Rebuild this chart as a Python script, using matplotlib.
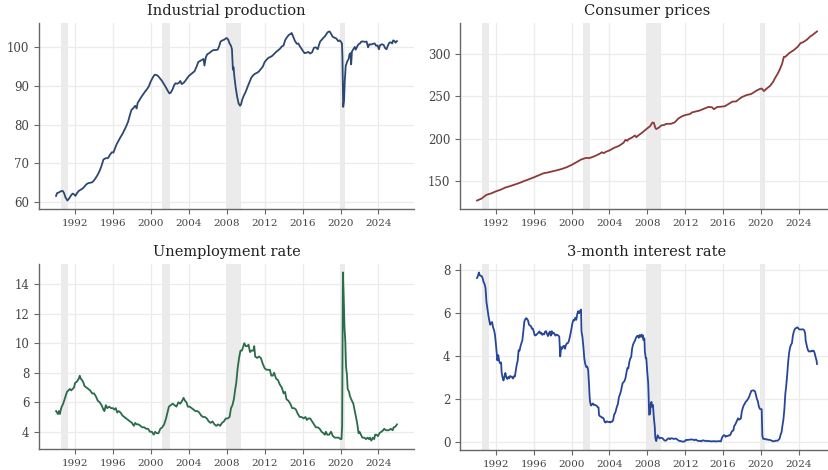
import numpy as np
import matplotlib
matplotlib.use("Agg")
import matplotlib.pyplot as plt

# Recession periods (start, end) in decimal years
recessions = [(1990.5, 1991.25), (2001.2, 2002.0), (2007.92, 2009.5), (2019.95, 2020.5)]

# Industrial production index
ip_t = [1990.0, 1990.1, 1990.3, 1990.5, 1990.7, 1990.85, 1991.0, 1991.2, 1991.4, 1991.6,
        1991.75, 1991.9, 1992.05, 1992.2, 1992.4, 1992.6, 1992.8, 1993.0, 1993.2, 1993.4,
        1993.6, 1993.8, 1994.0, 1994.2, 1994.4, 1994.6, 1994.8, 1995.0, 1995.2, 1995.5,
        1995.7, 1995.9, 1996.05, 1996.2, 1996.4, 1996.6, 1996.8, 1997.0, 1997.2, 1997.4,
        1997.6, 1997.8, 1997.95, 1998.15, 1998.35, 1998.5, 1998.6, 1998.8, 1999.0, 1999.2,
        1999.4, 1999.6, 1999.8, 1999.95, 2000.1, 2000.25, 2000.4, 2000.55, 2000.75, 2000.95,
        2001.15, 2001.35, 2001.55, 2001.75, 2001.95, 2002.1, 2002.3, 2002.45, 2002.6, 2002.8,
        2003.0, 2003.1, 2003.25, 2003.45, 2003.65, 2003.85, 2004.0, 2004.2, 2004.4, 2004.6,
        2004.8, 2005.0, 2005.2, 2005.4, 2005.55, 2005.65, 2005.8, 2005.95, 2006.15, 2006.4,
        2006.6, 2006.85, 2007.05, 2007.2, 2007.35, 2007.55, 2007.75, 2007.9, 2008.0, 2008.15,
        2008.3, 2008.45, 2008.55, 2008.65, 2008.72, 2008.8, 2008.95, 2009.1, 2009.25, 2009.4,
        2009.5, 2009.65, 2009.8, 2010.0, 2010.2, 2010.4, 2010.6, 2010.8, 2011.0, 2011.2,
        2011.4, 2011.6, 2011.8, 2012.0, 2012.2, 2012.4, 2012.6, 2012.8, 2013.0, 2013.2,
        2013.4, 2013.6, 2013.8, 2014.0, 2014.15, 2014.35, 2014.55, 2014.75, 2014.85, 2015.0,
        2015.2, 2015.4, 2015.55, 2015.7, 2015.9, 2016.05, 2016.2, 2016.4, 2016.6, 2016.8,
        2017.0, 2017.2, 2017.4, 2017.6, 2017.7, 2017.85, 2018.0, 2018.2, 2018.4, 2018.55,
        2018.7, 2018.85, 2019.0, 2019.15, 2019.35, 2019.55, 2019.75, 2019.9, 2020.05, 2020.15,
        2020.2, 2020.28, 2020.37, 2020.45, 2020.55, 2020.7, 2020.85, 2020.95, 2021.05, 2021.12,
        2021.2, 2021.35, 2021.5, 2021.6, 2021.75, 2021.9, 2022.05, 2022.2, 2022.4, 2022.6,
        2022.75, 2022.9, 2023.05, 2023.2, 2023.4, 2023.6, 2023.75, 2023.9, 2024.05, 2024.15,
        2024.35, 2024.55, 2024.7, 2024.85, 2025.0, 2025.15, 2025.3, 2025.45, 2025.55, 2025.7,
        2025.8, 2025.95]
ip_v = [61.6, 62.3, 62.5, 62.8, 62.9, 62.3, 61.2, 60.4, 61.0, 61.8,
        62.2, 62.0, 61.6, 62.3, 62.9, 63.2, 63.5, 64.0, 64.6, 64.9,
        65.0, 65.1, 65.6, 66.3, 67.1, 68.1, 69.4, 71.0, 71.3, 71.4,
        72.3, 72.9, 72.8, 73.8, 75.0, 75.9, 76.8, 77.6, 78.6, 79.6,
        80.8, 82.6, 83.8, 84.3, 84.9, 84.2, 85.6, 86.4, 87.2, 87.9,
        88.6, 89.2, 90.0, 91.0, 91.7, 92.4, 92.9, 92.9, 92.6, 92.0,
        91.4, 90.6, 89.8, 88.9, 88.1, 88.3, 89.2, 90.2, 90.7, 90.6,
        90.9, 91.3, 90.5, 90.8, 91.4, 92.1, 92.6, 93.0, 93.4, 93.8,
        94.9, 96.2, 96.5, 96.8, 97.0, 95.3, 97.5, 98.2, 98.5, 99.0,
        99.3, 99.3, 99.4, 100.3, 101.5, 101.8, 102.0, 102.3, 102.4, 102.0,
        101.0, 100.4, 99.5, 94.2, 94.8, 92.5, 89.5, 87.2, 85.5, 84.9,
        85.2, 86.6, 87.5, 88.5, 89.8, 91.0, 92.2, 92.8, 93.2, 93.4,
        93.8, 94.4, 95.0, 96.2, 96.8, 97.3, 97.5, 97.8, 98.3, 98.8,
        99.2, 99.6, 100.2, 100.5, 101.8, 102.6, 103.2, 103.5, 103.7, 102.8,
        101.6, 100.9, 101.0, 100.3, 99.6, 99.0, 98.5, 98.6, 98.8, 98.4,
        98.7, 99.9, 100.0, 99.5, 100.4, 101.5, 101.9, 102.4, 103.0, 103.6,
        104.0, 104.1, 103.5, 102.8, 102.5, 102.3, 101.6, 101.8, 101.4, 101.0,
        97.5, 84.6, 86.2, 91.5, 95.2, 96.3, 97.0, 98.2, 98.5, 95.6,
        98.9, 99.5, 100.1, 99.4, 100.2, 100.8, 101.0, 101.5, 101.5, 101.4,
        101.5, 100.0, 100.8, 100.7, 100.9, 101.0, 100.4, 100.5, 99.5, 100.5,
        100.8, 100.6, 99.8, 99.5, 100.5, 101.2, 101.3, 101.0, 101.8, 101.6,
        101.2, 101.6]

# Consumer price index
cpi_t = [1990.0, 1990.5, 1990.8, 1991.0, 1991.5, 1992.0, 1992.5, 1993.0, 1993.5, 1994.0,
         1994.5, 1995.0, 1995.5, 1996.0, 1996.5, 1997.0, 1997.5, 1998.0, 1998.5, 1999.0,
         1999.5, 2000.0, 2000.5, 2001.0, 2001.5, 2001.9, 2002.2, 2002.5, 2003.0, 2003.2,
         2003.4, 2003.6, 2004.0, 2004.5, 2005.0, 2005.5, 2005.7, 2005.9, 2006.0, 2006.4,
         2006.7, 2006.85, 2007.0, 2007.5, 2008.0, 2008.3, 2008.55, 2008.7, 2008.85, 2008.95,
         2009.2, 2009.5, 2009.8, 2010.0, 2010.5, 2010.9, 2011.3, 2011.7, 2012.0, 2012.5,
         2012.75, 2013.0, 2013.5, 2014.0, 2014.5, 2014.85, 2015.05, 2015.4, 2015.9, 2016.2,
         2016.5, 2017.0, 2017.4, 2017.8, 2018.0, 2018.5, 2019.0, 2019.5, 2019.9, 2020.1,
         2020.35, 2020.6, 2021.0, 2021.3, 2021.5, 2021.8, 2022.0, 2022.25, 2022.45, 2022.6,
         2023.0, 2023.5, 2023.9, 2024.2, 2024.5, 2024.9, 2025.2, 2025.5, 2025.95]
cpi_v = [127.5, 129.9, 132.6, 134.2, 135.9, 138.3, 140.2, 142.8, 144.4, 146.3,
         148.2, 150.5, 152.5, 154.7, 157.0, 159.4, 160.5, 161.8, 163.2, 164.7,
         166.7, 169.3, 172.4, 175.6, 177.5, 177.4, 178.6, 179.9, 182.6, 184.2,
         183.1, 184.6, 186.3, 189.4, 191.6, 195.4, 198.8, 197.6, 199.3, 201.5,
         203.9, 201.8, 203.4, 207.6, 212.2, 214.8, 219.1, 218.8, 213.0, 211.4,
         212.9, 215.7, 216.3, 217.5, 217.6, 219.2, 223.9, 226.5, 227.8, 229.0,
         231.0, 231.7, 233.0, 235.3, 237.5, 236.9, 234.7, 237.3, 237.8, 238.2,
         240.2, 243.6, 243.9, 247.3, 248.9, 251.3, 252.6, 256.2, 258.5, 259.0,
         256.0, 258.7, 262.2, 266.7, 271.0, 276.5, 281.1, 287.7, 296.3, 296.2,
         300.5, 304.1, 307.9, 312.2, 313.5, 316.5, 319.8, 322.1, 326.0]

# Unemployment rate (%)
ur_t = [1990.0, 1990.1, 1990.2, 1990.3, 1990.4, 1990.5, 1990.6, 1990.75, 1990.9, 1991.0,
        1991.15, 1991.3, 1991.45, 1991.6, 1991.75, 1991.9, 1992.0, 1992.2, 1992.4, 1992.5,
        1992.6, 1992.75, 1992.9, 1993.0, 1993.2, 1993.4, 1993.6, 1993.8, 1994.0, 1994.2,
        1994.4, 1994.6, 1994.8, 1995.0, 1995.1, 1995.25, 1995.4, 1995.6, 1995.8, 1996.0,
        1996.15, 1996.3, 1996.45, 1996.6, 1996.8, 1997.0, 1997.2, 1997.4, 1997.6, 1997.8,
        1998.0, 1998.2, 1998.35, 1998.5, 1998.7, 1998.9, 1999.1, 1999.3, 1999.5, 1999.7,
        1999.9, 2000.1, 2000.3, 2000.45, 2000.6, 2000.8, 2001.0, 2001.2, 2001.4, 2001.6,
        2001.75, 2001.9, 2002.1, 2002.3, 2002.5, 2002.7, 2002.9, 2003.1, 2003.3, 2003.45,
        2003.6, 2003.75, 2003.9, 2004.1, 2004.3, 2004.5, 2004.7, 2004.9, 2005.1, 2005.3,
        2005.5, 2005.7, 2005.9, 2006.1, 2006.3, 2006.5, 2006.7, 2006.9, 2007.1, 2007.3,
        2007.5, 2007.7, 2007.9, 2008.1, 2008.3, 2008.45, 2008.6, 2008.75, 2008.9, 2009.0,
        2009.15, 2009.3, 2009.45, 2009.6, 2009.75, 2009.85, 2010.0, 2010.15, 2010.3, 2010.45,
        2010.6, 2010.8, 2010.9, 2011.0, 2011.2, 2011.4, 2011.6, 2011.8, 2012.0, 2012.2,
        2012.4, 2012.55, 2012.7, 2012.85, 2013.0, 2013.2, 2013.4, 2013.6, 2013.8, 2014.0,
        2014.15, 2014.3, 2014.5, 2014.7, 2014.9, 2015.1, 2015.3, 2015.5, 2015.7, 2015.9,
        2016.1, 2016.3, 2016.45, 2016.6, 2016.8, 2017.0, 2017.2, 2017.4, 2017.6, 2017.8,
        2018.0, 2018.2, 2018.35, 2018.45, 2018.6, 2018.8, 2019.0, 2019.2, 2019.4, 2019.6,
        2019.8, 2020.0, 2020.1, 2020.17, 2020.25, 2020.33, 2020.42, 2020.5, 2020.58, 2020.67,
        2020.75, 2020.9, 2021.0, 2021.2, 2021.35, 2021.5, 2021.6, 2021.75, 2021.9, 2022.0,
        2022.15, 2022.3, 2022.5, 2022.7, 2022.85, 2023.0, 2023.1, 2023.25, 2023.4, 2023.55,
        2023.65, 2023.8, 2023.95, 2024.1, 2024.3, 2024.5, 2024.6, 2024.8, 2024.95, 2025.1,
        2025.3, 2025.5, 2025.6, 2025.7, 2025.85, 2025.95]
ur_v = [5.4, 5.3, 5.2, 5.4, 5.2, 5.5, 5.7, 5.9, 6.2, 6.4,
        6.7, 6.8, 6.9, 6.8, 6.9, 7.0, 7.3, 7.4, 7.6, 7.8,
        7.6, 7.5, 7.3, 7.1, 7.0, 6.9, 6.8, 6.6, 6.6, 6.4,
        6.1, 6.0, 5.8, 5.5, 5.4, 5.8, 5.6, 5.7, 5.6, 5.6,
        5.5, 5.6, 5.3, 5.4, 5.3, 5.1, 5.0, 4.9, 4.8, 4.7,
        4.6, 4.4, 4.6, 4.5, 4.5, 4.4, 4.3, 4.3, 4.2, 4.2,
        4.0, 4.0, 3.8, 4.0, 3.9, 3.9, 4.2, 4.3, 4.5, 4.9,
        5.3, 5.7, 5.8, 5.9, 5.8, 5.7, 6.0, 5.9, 6.1, 6.3,
        6.1, 6.0, 5.7, 5.7, 5.6, 5.5, 5.4, 5.4, 5.3, 5.1,
        5.0, 5.0, 4.9, 4.7, 4.6, 4.7, 4.5, 4.4, 4.5, 4.4,
        4.6, 4.7, 4.9, 4.9, 5.0, 5.6, 5.8, 6.2, 6.9, 7.3,
        8.3, 9.0, 9.5, 9.5, 9.8, 10.0, 9.8, 9.8, 9.9, 9.4,
        9.5, 9.5, 9.8, 9.1, 9.0, 9.1, 9.0, 8.6, 8.3, 8.2,
        8.2, 8.2, 7.8, 7.8, 8.0, 7.6, 7.5, 7.2, 7.0, 6.6,
        6.7, 6.2, 6.1, 5.9, 5.6, 5.6, 5.5, 5.2, 5.0, 5.0,
        4.9, 5.0, 4.8, 4.9, 4.9, 4.7, 4.5, 4.3, 4.3, 4.2,
        4.0, 3.9, 3.8, 4.0, 3.8, 3.8, 4.0, 3.7, 3.6, 3.6,
        3.6, 3.5, 3.5, 4.4, 14.8, 13.2, 11.0, 10.2, 8.4, 7.9,
        6.9, 6.7, 6.4, 6.1, 5.9, 5.4, 5.1, 4.6, 3.9, 4.0,
        3.8, 3.6, 3.6, 3.5, 3.6, 3.5, 3.6, 3.4, 3.6, 3.5,
        3.8, 3.8, 3.7, 3.9, 4.0, 4.1, 4.2, 4.1, 4.1, 4.1,
        4.2, 4.1, 4.3, 4.3, 4.4, 4.5]

# 3-month treasury bill rate (%)
tb_t = [1990.0, 1990.1, 1990.2, 1990.3, 1990.4, 1990.5, 1990.6, 1990.7, 1990.8, 1990.9,
        1991.0, 1991.1, 1991.2, 1991.3, 1991.4, 1991.5, 1991.6, 1991.7, 1991.8, 1991.9,
        1992.0, 1992.1, 1992.15, 1992.25, 1992.35, 1992.45, 1992.55, 1992.6, 1992.7, 1992.8,
        1992.9, 1993.0, 1993.1, 1993.2, 1993.3, 1993.4, 1993.5, 1993.6, 1993.7, 1993.8,
        1993.9, 1994.0, 1994.1, 1994.2, 1994.3, 1994.4, 1994.5, 1994.6, 1994.7, 1994.8,
        1994.9, 1995.0, 1995.1, 1995.2, 1995.3, 1995.4, 1995.5, 1995.6, 1995.7, 1995.8,
        1995.9, 1996.0, 1996.1, 1996.2, 1996.3, 1996.4, 1996.5, 1996.6, 1996.7, 1996.8,
        1996.9, 1997.0, 1997.1, 1997.2, 1997.3, 1997.4, 1997.5, 1997.6, 1997.7, 1997.8,
        1997.9, 1998.0, 1998.1, 1998.2, 1998.3, 1998.4, 1998.5, 1998.6, 1998.7, 1998.8,
        1998.9, 1999.0, 1999.1, 1999.2, 1999.3, 1999.4, 1999.5, 1999.6, 1999.7, 1999.8,
        1999.9, 2000.0, 2000.1, 2000.2, 2000.3, 2000.4, 2000.5, 2000.6, 2000.7, 2000.8,
        2000.9, 2001.0, 2001.05, 2001.15, 2001.25, 2001.35, 2001.45, 2001.55, 2001.65, 2001.75,
        2001.85, 2001.9, 2001.95, 2002.05, 2002.15, 2002.25, 2002.35, 2002.45, 2002.55, 2002.65,
        2002.75, 2002.85, 2002.9, 2003.0, 2003.1, 2003.2, 2003.3, 2003.4, 2003.5, 2003.6,
        2003.7, 2003.8, 2003.9, 2004.0, 2004.1, 2004.2, 2004.3, 2004.4, 2004.5, 2004.6,
        2004.7, 2004.8, 2004.9, 2005.0, 2005.1, 2005.2, 2005.3, 2005.4, 2005.5, 2005.6,
        2005.7, 2005.8, 2005.9, 2006.0, 2006.1, 2006.2, 2006.3, 2006.4, 2006.5, 2006.6,
        2006.7, 2006.8, 2006.9, 2007.0, 2007.1, 2007.2, 2007.3, 2007.4, 2007.5, 2007.55,
        2007.6, 2007.7, 2007.75, 2007.85, 2007.9, 2008.0, 2008.1, 2008.15, 2008.2, 2008.3,
        2008.35, 2008.45, 2008.5, 2008.6, 2008.7, 2008.8, 2008.85, 2008.95, 2009.0, 2009.1,
        2009.2, 2009.3, 2009.4, 2009.5, 2009.6, 2009.7, 2009.8, 2009.9, 2010.0, 2010.1,
        2010.2, 2010.3, 2010.4, 2010.5, 2010.6, 2010.7, 2010.8, 2010.9, 2011.0, 2011.1,
        2011.2, 2011.3, 2011.4, 2011.5, 2011.6, 2011.7, 2011.8, 2011.9, 2012.0, 2012.1,
        2012.2, 2012.3, 2012.4, 2012.5, 2012.6, 2012.7, 2012.8, 2012.9, 2013.0, 2013.1,
        2013.2, 2013.3, 2013.4, 2013.5, 2013.6, 2013.7, 2013.8, 2013.9, 2014.0, 2014.1,
        2014.2, 2014.3, 2014.4, 2014.5, 2014.6, 2014.7, 2014.8, 2014.9, 2015.0, 2015.2,
        2015.4, 2015.6, 2015.8, 2015.85, 2015.95, 2016.0, 2016.1, 2016.2, 2016.3, 2016.4,
        2016.5, 2016.6, 2016.7, 2016.8, 2016.9, 2017.0, 2017.1, 2017.2, 2017.3, 2017.4,
        2017.5, 2017.6, 2017.7, 2017.8, 2017.9, 2018.0, 2018.1, 2018.2, 2018.3, 2018.4,
        2018.5, 2018.6, 2018.7, 2018.8, 2018.9, 2019.0, 2019.1, 2019.2, 2019.3, 2019.4,
        2019.5, 2019.6, 2019.7, 2019.8, 2019.9, 2020.0, 2020.1, 2020.17, 2020.25, 2020.35,
        2020.5, 2020.6, 2020.7, 2020.8, 2020.9, 2021.0, 2021.2, 2021.4, 2021.6, 2021.8,
        2022.0, 2022.1, 2022.2, 2022.3, 2022.4, 2022.5, 2022.6, 2022.7, 2022.8, 2022.9,
        2023.0, 2023.1, 2023.2, 2023.3, 2023.4, 2023.5, 2023.6, 2023.7, 2023.8, 2023.9,
        2024.0, 2024.1, 2024.2, 2024.3, 2024.4, 2024.5, 2024.6, 2024.7, 2024.75, 2024.85,
        2024.9, 2025.0, 2025.1, 2025.2, 2025.3, 2025.4, 2025.5, 2025.6, 2025.7, 2025.8,
        2025.9, 2025.95]
tb_v = [7.64, 7.74, 7.90, 7.77, 7.74, 7.73, 7.62, 7.45, 7.36, 7.17,
        6.52, 6.20, 5.91, 5.65, 5.46, 5.57, 5.58, 5.33, 5.22, 4.99,
        4.56, 4.07, 3.80, 4.04, 3.75, 3.66, 3.70, 3.25, 3.00, 2.86,
        3.05, 3.21, 3.00, 2.93, 3.02, 2.96, 3.07, 3.04, 3.02, 2.95,
        3.06, 3.04, 3.33, 3.59, 3.78, 4.27, 4.25, 4.46, 4.61, 4.75,
        5.15, 5.60, 5.71, 5.77, 5.73, 5.65, 5.47, 5.42, 5.40, 5.28,
        5.28, 5.14, 4.97, 4.96, 5.00, 5.05, 5.09, 5.15, 5.05, 5.09,
        4.99, 5.03, 5.01, 5.14, 5.16, 5.05, 4.93, 5.05, 5.14, 4.95,
        5.16, 5.04, 5.09, 5.03, 4.95, 5.00, 4.98, 4.96, 4.90, 3.98,
        4.41, 4.34, 4.45, 4.48, 4.34, 4.51, 4.59, 4.60, 4.68, 4.86,
        5.07, 5.32, 5.55, 5.69, 5.66, 5.79, 5.69, 5.96, 6.09, 6.00,
        6.11, 6.17, 5.15, 4.88, 4.42, 3.87, 3.62, 3.49, 3.51, 3.36,
        2.64, 2.16, 1.87, 1.69, 1.73, 1.79, 1.72, 1.73, 1.70, 1.68,
        1.62, 1.60, 1.25, 1.19, 1.17, 1.13, 1.13, 1.07, 0.92, 0.90,
        0.95, 0.94, 0.92, 0.93, 0.90, 0.94, 0.94, 1.02, 1.27, 1.33,
        1.48, 1.65, 1.76, 2.07, 2.19, 2.33, 2.54, 2.74, 2.78, 2.84,
        2.97, 3.22, 3.44, 3.42, 3.71, 3.88, 3.95, 4.34, 4.54, 4.63,
        4.72, 4.84, 4.92, 4.95, 4.85, 4.98, 4.90, 5.00, 4.87, 4.96,
        4.74, 4.82, 4.20, 3.89, 3.90, 3.27, 2.75, 2.12, 1.26, 1.29,
        1.73, 1.86, 1.63, 1.72, 1.13, 0.67, 0.19, 0.03, 0.13, 0.30,
        0.22, 0.16, 0.18, 0.18, 0.17, 0.12, 0.07, 0.05, 0.06, 0.11,
        0.15, 0.16, 0.12, 0.16, 0.16, 0.15, 0.13, 0.14, 0.15, 0.13,
        0.10, 0.06, 0.04, 0.04, 0.02, 0.01, 0.01, 0.01, 0.03, 0.09,
        0.08, 0.09, 0.09, 0.10, 0.10, 0.11, 0.10, 0.09, 0.07, 0.10,
        0.09, 0.05, 0.04, 0.04, 0.04, 0.02, 0.05, 0.07, 0.05, 0.04,
        0.05, 0.03, 0.03, 0.04, 0.03, 0.02, 0.02, 0.02, 0.03, 0.02,
        0.02, 0.03, 0.02, 0.12, 0.23, 0.26, 0.31, 0.29, 0.23, 0.27,
        0.27, 0.30, 0.29, 0.33, 0.45, 0.51, 0.52, 0.74, 0.80, 0.89,
        0.99, 1.09, 1.03, 1.05, 1.09, 1.41, 1.57, 1.70, 1.76, 1.86,
        1.90, 1.96, 2.03, 2.13, 2.25, 2.37, 2.39, 2.40, 2.38, 2.35,
        2.17, 1.99, 1.89, 1.65, 1.54, 1.52, 1.52, 0.29, 0.14, 0.13,
        0.13, 0.10, 0.11, 0.09, 0.09, 0.08, 0.04, 0.02, 0.05, 0.05,
        0.15, 0.33, 0.44, 0.76, 1.04, 1.52, 2.23, 2.63, 3.13, 3.72,
        4.15, 4.40, 4.52, 4.60, 4.95, 5.14, 5.25, 5.30, 5.32, 5.34,
        5.27, 5.24, 5.24, 5.24, 5.25, 5.24, 5.20, 5.05, 4.72, 4.51,
        4.42, 4.27, 4.21, 4.22, 4.21, 4.25, 4.23, 4.25, 4.14, 3.95,
        3.80, 3.63]

titles = ["Industrial production", "Consumer prices", "Unemployment rate", "3-month interest rate"]
colors = ["#2c4870", "#8b3a3a", "#2a6b4a", "#27469a"]
series = [(ip_t, ip_v), (cpi_t, cpi_v), (ur_t, ur_v), (tb_t, tb_v)]
year_ticks = np.arange(1992, 2025, 4)

plt.rcParams["font.family"] = "DejaVu Serif"

W, H = 829, 470
fig = plt.figure(figsize=(W / 100, H / 100), dpi=100)
# axes rectangles in pixels: left, top, right, bottom
rects = [(39, 23, 414, 209), (460, 23, 834, 209),
         (39, 264, 414, 449), (460, 264, 834, 450)]

for (l, t, r, b), title, color, (x, y) in zip(rects, titles, colors, series):
    ax = fig.add_axes([l / W, (H - b) / H, (r - l) / W, (b - t) / H])
    for start, end in recessions:
        ax.axvspan(start, end, color="#ebebeb", lw=0, zorder=0)
    ax.plot(x, y, color=color, lw=1.3, zorder=3)
    ax.set_title(title, fontsize=10.5, color="#222222", pad=6)
    ax.set_xticks(year_ticks)
    ax.grid(True, color="#ebebeb", lw=0.9, zorder=1)
    ax.set_axisbelow(True)
    for side in ["top", "right"]:
        ax.spines[side].set_visible(False)
    for side in ["left", "bottom"]:
        ax.spines[side].set_color("#666666")
        ax.spines[side].set_linewidth(1.0)
    ax.tick_params(colors="#666666", labelcolor="#444444", length=3.5, width=0.8)
    ax.tick_params(axis="x", labelsize=7.5)
    ax.tick_params(axis="y", labelsize=8.5)

fig.savefig("out.png", dpi=100, facecolor="white")
